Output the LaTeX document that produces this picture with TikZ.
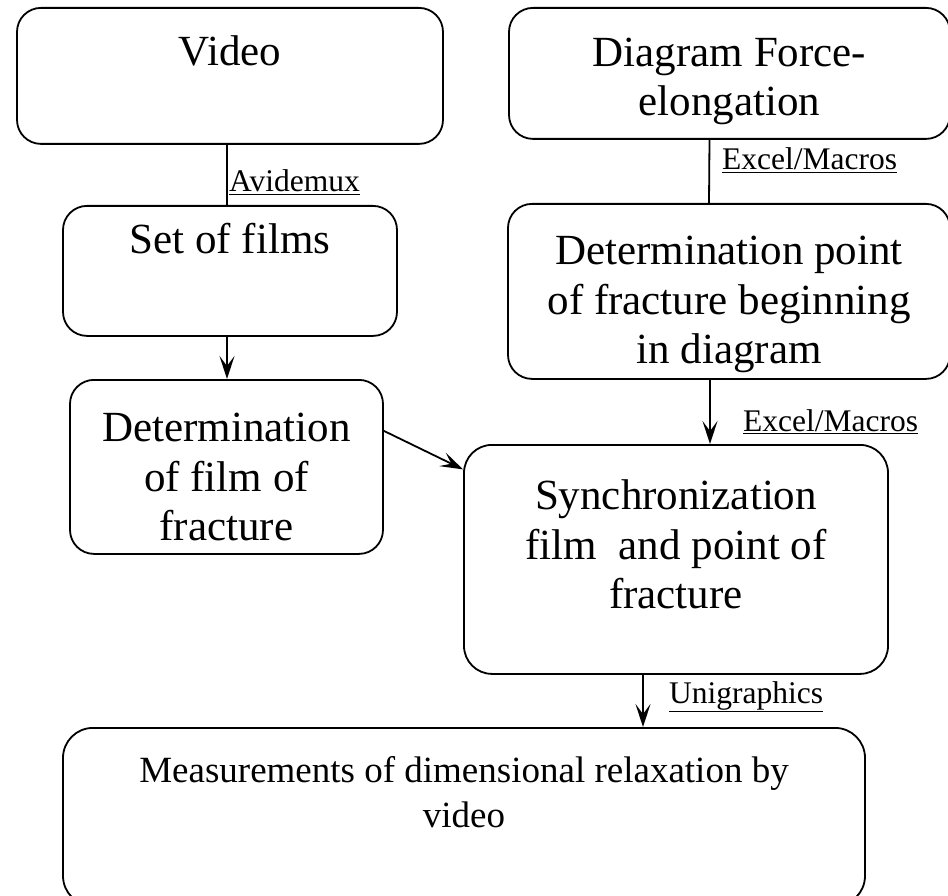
\documentclass[tikz,border=0pt]{standalone}
\usepackage{fontspec}
\setmainfont{Liberation Serif}
\usetikzlibrary{arrows.meta}

\tikzset{
	stage/.style={draw, line width=1.8pt, rounded corners=24pt, inner sep=0pt, align=center, anchor=north, font=\fontsize{43}{49.5}\selectfont},
	tool/.style={inner sep=0pt, anchor=base west, font=\fontsize{31.5}{38}\selectfont},
	link/.style={line width=1.8pt},
	flow/.style={link, -{Stealth[length=23pt, width=15pt, inset=10pt]}},
}

\begin{document}
\begin{tikzpicture}[x=1pt, y=-1pt]
		\useasboundingbox (0,0) rectangle (948,896);
		
		% Cajas del proceso (text height = hasta la ultima linea)
		\node[stage, minimum width=426pt, text height=58pt, text depth=78pt] (video) at (230,7) {Video};
		\node[stage, minimum width=441pt, text height=108pt, text depth=23pt] (force) at (729.5,7) {Diagram Force-\\elongation};
		\node[stage, minimum width=334pt, text height=48pt, text depth=82pt] (films) at (230,205) {Set of films};
		\node[stage, minimum width=442pt, text height=160pt, text depth=15pt] (fpoint) at (729,203) {Determination point\\of fracture beginning\\in diagram};
		\node[stage, minimum width=313pt, text height=161pt, text depth=13pt] (ffilm) at (226.5,379) {Determination\\of film of\\fracture};
		\node[stage, rounded corners=28pt, minimum width=424pt, text height=164pt, text depth=65pt] (sync) at (676,444) {Synchronization\\film~ and point of\\fracture};
		\node[stage, rounded corners=30pt, minimum width=802pt, text height=100pt, text depth=78pt, font=\fontsize{37}{45}\selectfont] (meas) at (464,727) {Measurements of dimensional relaxation by\\video};
		
		% Conexiones
		\draw[link] ([xshift=-3pt]video.south) -- ([xshift=-3pt]films.north);
		\draw[link] ([xshift=-20pt]force.south) -- ([xshift=-20pt]fpoint.north);
		\draw[flow] ([xshift=-3pt]films.south) -- ([xshift=0.5pt]ffilm.north);
		\draw[flow] ([xshift=-19pt]fpoint.south) -- ([xshift=34pt]sync.north);
		\draw[flow] ([yshift=36pt]ffilm.east) -- ([yshift=90pt]sync.west);
		\draw[flow] ([xshift=-33pt]sync.south) -- ([xshift=179pt]meas.north);
		
		% Programas usados
		\node[tool] (avidemux) at (229,192) {\underline{Avidemux}};
		\node[tool] (excelA) at (722,170) {\underline{Excel/Macros}};
		\node[tool] (excelB) at (743,431) {\underline{Excel/Macros}};
		\node[tool] (unigraphics) at (669,703) {\underline{Unigraphics}};
	\end{tikzpicture}
\end{document}
